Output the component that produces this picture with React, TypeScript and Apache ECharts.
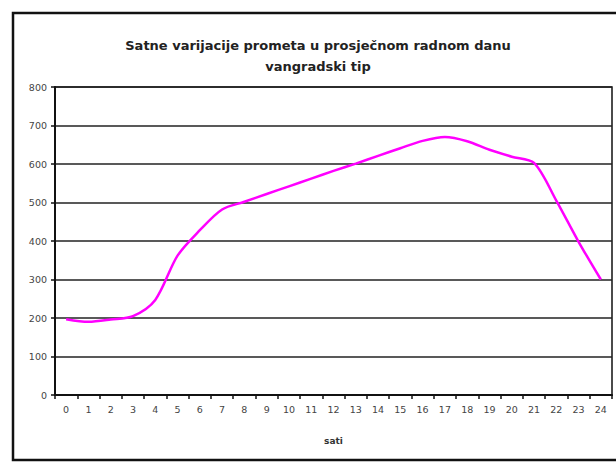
import React, { useEffect, useRef } from "react";
import * as echarts from "echarts";

const hours: string[] = ["0","1","2","3","4","5","6","7","8","9","10","11","12","13","14","15","16","17","18","19","20","21","22","23","24"];
const traffic: number[] = [197, 190, 196, 205, 247, 362, 428, 482, 502, 522, 542, 562, 582, 601, 621, 641, 660, 670, 659, 637, 619, 603, 505, 398, 300];
const titleLines: string[] = ["Satne varijacije prometa u prosječnom radnom danu", "vangradski tip"];
const xName = "sati";

export default function App() {
  const ref = useRef<HTMLDivElement>(null);
  useEffect(() => {
    if (!ref.current) return;
    const chart = echarts.init(ref.current, null, { renderer: "svg" });
    chart.setOption({
      animation: false,
      backgroundColor: "#ffffff",
      textStyle: { fontFamily: "DejaVu Sans" },
      title: {
        text: titleLines.join("\n"),
        left: 313,
        textAlign: "center",
        top: 30,
        textStyle: { fontFamily: "DejaVu Sans", fontWeight: "bold", fontSize: 13, color: "#222", lineHeight: 21 },
      },
      graphic: [
        {
          type: "rect",
          shape: { x: 13, y: 13, width: 622, height: 447 },
          style: { fill: "none", stroke: "#111", lineWidth: 2.5 },
          silent: true,
        },
      ],
      grid: { left: 55, right: 4, top: 87, bottom: 68, show: true, borderColor: "#111", borderWidth: 1.5, backgroundColor: "transparent" },
      xAxis: {
        type: "category",
        data: hours,
        boundaryGap: true,
        name: xName,
        nameLocation: "middle",
        nameGap: 41,
        nameTextStyle: { fontFamily: "DejaVu Sans", fontWeight: "bold", fontSize: 9, color: "#333" },
        axisLine: { lineStyle: { color: "#111", width: 2 } },
        axisTick: { show: true, alignWithLabel: false, length: 4, lineStyle: { color: "#111", width: 1.5 } },
        axisLabel: { fontSize: 9.5, color: "#444", margin: 9, interval: 0 },
        splitLine: { show: false },
      },
      yAxis: {
        type: "value",
        min: 0,
        max: 800,
        interval: 100,
        axisLine: { show: true, lineStyle: { color: "#111", width: 2 } },
        axisTick: { show: true, length: 4, lineStyle: { color: "#111", width: 1.5 } },
        axisLabel: { fontSize: 9.5, color: "#444", margin: 8 },
        splitLine: { show: true, lineStyle: { color: "#222", width: 1.6 } },
      },
      series: [
        {
          type: "line",
          data: traffic,
          smooth: 0.3,
          showSymbol: false,
          symbol: "none",
          lineStyle: { color: "#ff00ff", width: 2.5 },
          itemStyle: { color: "#ff00ff" },
        },
      ],
    });
    return () => chart.dispose();
  }, []);
  return <div ref={ref} style={{ position: "absolute", left: 0, top: 0, width: 616, height: 463 }} />;
}
